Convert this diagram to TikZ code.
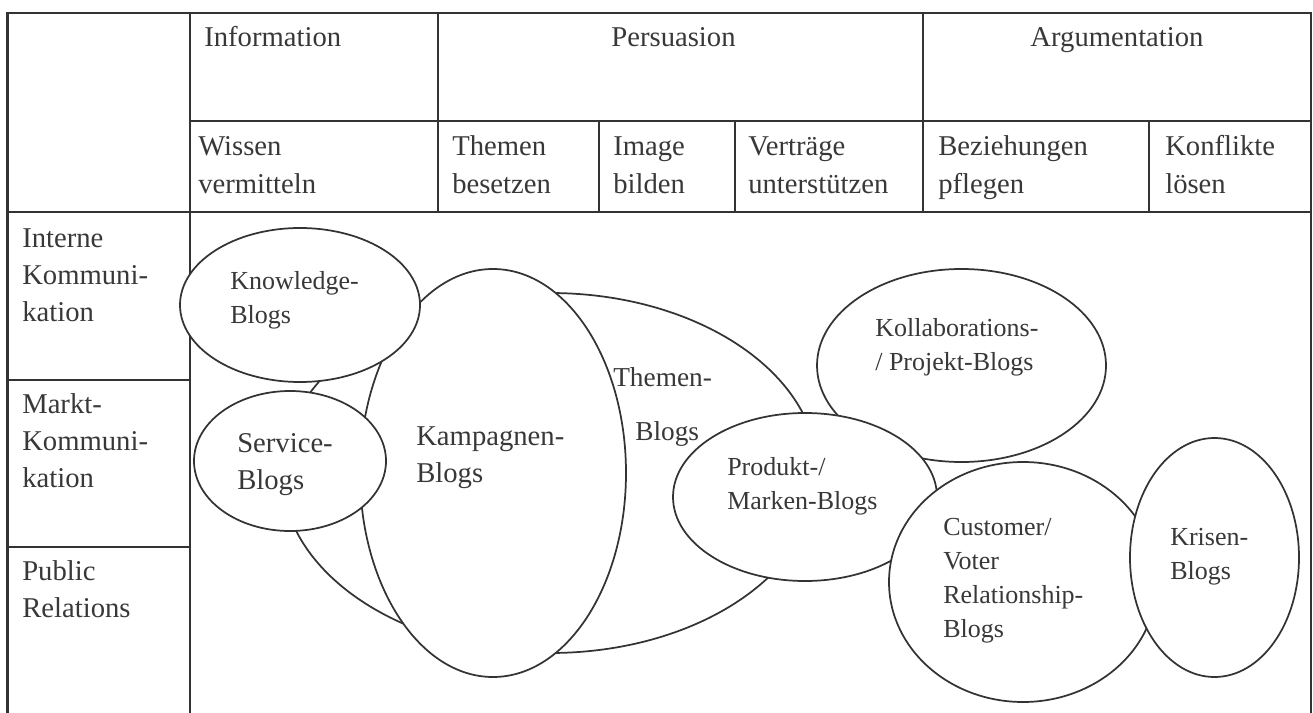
\documentclass[tikz,border=0pt]{standalone}
\usepackage{fontspec}
\setmainfont{Liberation Serif}
\usetikzlibrary{shapes.geometric}
\definecolor{ink}{HTML}{333333}
\definecolor{txt}{HTML}{383838}
\newcommand\bigtxt{\fontsize{21.5pt}{28pt}\selectfont}
\newcommand\midtxt{\fontsize{20.5pt}{27.5pt}\selectfont}
\newcommand\smtxt{\fontsize{19.5pt}{25.5pt}\selectfont}
\newcommand\stk[1]{\begin{tabular}[t]{@{}l@{}}#1\end{tabular}}
\tikzset{
  grid/.style={draw=ink, line width=1.7pt},
  blob/.style={ellipse, draw=ink, fill=white, line width=1.3pt, inner sep=0pt, outer sep=0pt},
  hd/.style={inner sep=0pt, text=txt, font=\bigtxt, anchor=base west},
  hdc/.style={inner sep=0pt, text=txt, font=\bigtxt, anchor=base},
  sm/.style={inner sep=0pt, text=txt, font=\smtxt, anchor=base west},
}
\begin{document}
\begin{tikzpicture}[x=0.75pt, y=-0.75pt]
\useasboundingbox (0,0) rectangle (1313,713);
% table
\draw[grid] (7.5,713) -- (7.5,13) -- (1311,13) -- (1311,713);
\draw[grid] (190,13) -- (190,713);
\draw[grid] (190,121) -- (1311,121);
\draw[grid] (7.5,212) -- (1311,212);
\draw[grid] (438,13) -- (438,212);
\draw[grid] (923,13) -- (923,212);
\draw[grid] (599,121) -- (599,212);
\draw[grid] (735,121) -- (735,212);
\draw[grid] (1149,121) -- (1149,212);
\draw[grid] (7.5,380) -- (190,380);
\draw[grid] (7.5,547) -- (190,547);
% header texts
\node[hd] (info) at (204,46.5) {Information};
\node[hdc] (pers) at (673.5,46.5) {Persuasion};
\node[hdc] (argu) at (1117,46.5) {Argumentation};
\node[hd] (wiss) at (198,156) {\stk{Wissen\\vermitteln}};
\node[hd] (them) at (452,156) {\stk{Themen\\besetzen}};
\node[hd] (imag) at (613,156) {\stk{Image\\bilden}};
\node[hd] (vert) at (748,156) {\stk{Verträge\\unterstützen}};
\node[hd] (bezi) at (938,156) {\stk{Beziehungen\\pflegen}};
\node[hd] (konf) at (1165,156) {\stk{Konflikte\\lösen}};
\node[hd] (intk) at (22,247) {\stk{Interne\\Kommuni-\\kation}};
\node[hd] (mark) at (22,413) {\stk{Markt-\\Kommuni-\\kation}};
\node[hd] (publ) at (22,580) {\stk{Public\\Relations}};
% ellipses
\node[blob, minimum width=402pt, minimum height=270pt] (themenE) at (550,473) {};
\node[blob, minimum width=199.5pt, minimum height=306pt] (kampE) at (493,473) {};
\node[blob, minimum width=180pt, minimum height=115.5pt] (knowE) at (300,305) {};
\node[blob, minimum width=144pt, minimum height=105pt] (servE) at (290,461) {};
\node[blob, minimum width=216.75pt, minimum height=144.75pt] (kollE) at (961.5,365.5) {};
\node[blob, minimum width=198pt, minimum height=126pt] (prodE) at (805,497) {};
\node[blob, minimum width=201pt, minimum height=180pt] (custE) at (1023,582) {};
\node[blob, minimum width=126.75pt, minimum height=179.25pt] (kriseE) at (1214.5,557.5) {};
% ellipse labels
\node[sm] (knowT) at (230,289) {\stk{Knowledge-\\Blogs}};
\node[hd] (servT) at (237,452) {\stk{Service-\\Blogs}};
\node[hd] (kampT) at (416,445) {\stk{Kampagnen-\\Blogs}};
\node[hd, font=\midtxt] (themenT) at (613,386) {\stk{Themen-\\[13pt]\hspace*{16.5pt}Blogs}};
\node[sm] (prodT) at (727,475) {\stk{Produkt-/\\Marken-Blogs}};
\node[sm] (kollT) at (875,336) {\stk{Kollaborations-\\/ Projekt-Blogs}};
\node[sm] (custT) at (943,535) {\stk{Customer/\\Voter\\Relationship-\\Blogs}};
\node[sm] (kriseT) at (1170,545) {\stk{Krisen-\\Blogs}};
\end{tikzpicture}
\end{document}
